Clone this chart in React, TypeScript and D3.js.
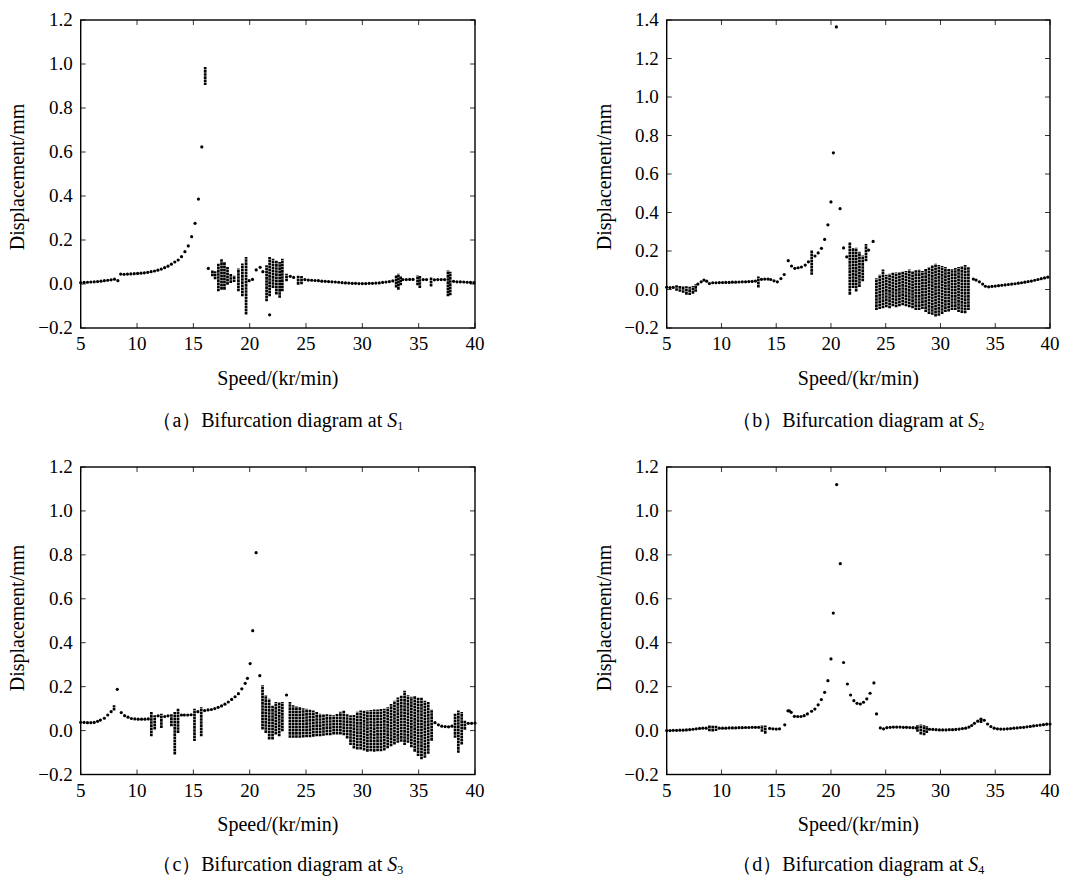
import React from 'react';
import * as d3 from 'd3';

type Pt = [number, number];
type Band = [number, number, number]; // [speed, min, max]

const xTicks = [5, 10, 15, 20, 25, 30, 35, 40];
const yTicks12 = [-0.2, 0, 0.2, 0.4, 0.6, 0.8, 1.0, 1.2];
const yTicks14 = [-0.2, 0, 0.2, 0.4, 0.6, 0.8, 1.0, 1.2, 1.4];

// ---------- (a) S1 ----------
const curveA: Pt[] = [
  [5.0, 0.006], [5.3, 0.007], [5.6, 0.008], [5.9, 0.009], [6.2, 0.01], [6.5, 0.011], [6.8, 0.013], [7.1, 0.015],
  [7.4, 0.017], [7.7, 0.019], [8.0, 0.022], [8.3, 0.015],
  [8.55, 0.045], [8.85, 0.044], [9.15, 0.045], [9.45, 0.046], [9.75, 0.047], [10.05, 0.048], [10.35, 0.049],
  [10.65, 0.051], [10.95, 0.053], [11.25, 0.056], [11.55, 0.059], [11.85, 0.063], [12.15, 0.068], [12.45, 0.074],
  [12.75, 0.081], [13.05, 0.09], [13.35, 0.1], [13.65, 0.109], [13.95, 0.124], [14.25, 0.147], [14.55, 0.173],
  [14.85, 0.215], [15.15, 0.276], [15.45, 0.386], [15.75, 0.623],
  [16.33, 0.071], [19.95, 0.015], [20.25, 0.021], [20.58, 0.064], [20.93, 0.076], [21.17, 0.056], [21.77, -0.14],
  [23.6, 0.035], [23.9, 0.03], [24.9, 0.02], [25.2, 0.018], [25.5, 0.017], [25.8, 0.016], [26.1, 0.015],
  [26.4, 0.013], [26.7, 0.012], [27.0, 0.011], [27.3, 0.01], [27.6, 0.009], [27.9, 0.008], [28.2, 0.006],
  [28.5, 0.005], [28.8, 0.004], [29.1, 0.003], [29.4, 0.003], [29.7, 0.002], [30.0, 0.002], [30.3, 0.002],
  [30.6, 0.003], [30.9, 0.003], [31.2, 0.004], [31.5, 0.005], [31.8, 0.007], [32.1, 0.009], [32.4, 0.011],
  [32.7, 0.014], [33.6, 0.02], [33.9, 0.02], [34.2, 0.021], [34.5, 0.021], [35.4, 0.02], [35.7, 0.02],
  [36.4, 0.019], [36.7, 0.02], [37.0, 0.02], [37.3, 0.02], [38.1, 0.012], [38.4, 0.01], [38.7, 0.01],
  [39.0, 0.009], [39.3, 0.008], [39.6, 0.007], [39.9, 0.006],
];
const bandsA: Band[] = [
  [16.05, 0.91, 0.98], [16.69, 0.041, 0.056], [16.93, 0.027, 0.052], [17.22, -0.027, 0.087], [17.5, -0.02, 0.109],
  [17.76, -0.02, 0.094], [18.03, 0.003, 0.071], [18.32, 0.011, 0.041], [18.62, 0.015, 0.033], [19.0, -0.027, 0.064],
  [19.35, -0.05, 0.087], [19.68, -0.133, 0.117], [21.5, -0.073, 0.079], [21.77, -0.05, 0.117], [22.07, -0.012, 0.109],
  [22.37, -0.042, 0.102], [22.66, -0.057, 0.094], [22.9, -0.027, 0.109], [23.27, 0.018, 0.041], [24.3, 0.003, 0.033],
  [24.6, 0.005, 0.03], [33.0, -0.01, 0.035], [33.2, -0.02, 0.041], [33.4, 0.0, 0.03], [34.9, 0.0, 0.033],
  [35.1, -0.012, 0.03], [36.1, -0.006, 0.026], [37.6, -0.05, 0.056], [37.8, -0.045, 0.05],
];

// ---------- (b) S2 ----------
const curveB: Pt[] = [
  [5.0, 0.012], [5.3, 0.01], [5.6, 0.011],
  [7.85, 0.028], [8.15, 0.04], [8.4, 0.049], [8.65, 0.043], [8.9, 0.031], [9.2, 0.035], [9.5, 0.035], [9.8, 0.036],
  [10.1, 0.036], [10.4, 0.037], [10.7, 0.037], [11.0, 0.038], [11.3, 0.038], [11.6, 0.039], [11.9, 0.04],
  [12.2, 0.04], [12.5, 0.041], [12.8, 0.042], [13.1, 0.044], [13.65, 0.053], [13.95, 0.054], [14.25, 0.054],
  [14.5, 0.052], [14.8, 0.045], [15.1, 0.04], [15.43, 0.057], [15.73, 0.078], [16.1, 0.15], [16.4, 0.122],
  [16.7, 0.11], [17.0, 0.113], [17.3, 0.117], [17.65, 0.127], [17.94, 0.144], [18.54, 0.174], [18.83, 0.19],
  [19.13, 0.214], [19.42, 0.26], [19.72, 0.336], [20.0, 0.455], [20.22, 0.71], [20.49, 1.364], [20.83, 0.42],
  [21.15, 0.216], [21.44, 0.17], [23.44, 0.205], [23.85, 0.25],
  [33.0, 0.054], [33.25, 0.049], [33.55, 0.04], [33.85, 0.028], [34.1, 0.017], [34.4, 0.014], [34.7, 0.016],
  [35.0, 0.018], [35.3, 0.02], [35.6, 0.022], [35.9, 0.024], [36.2, 0.026], [36.5, 0.028], [36.8, 0.03],
  [37.1, 0.033], [37.4, 0.035], [37.7, 0.038], [38.0, 0.041], [38.3, 0.044], [38.6, 0.048], [38.9, 0.052],
  [39.2, 0.056], [39.5, 0.06], [39.8, 0.064],
];
const bandsB: Band[] = [
  [5.9, 0.0, 0.015], [6.2, -0.005, 0.012], [6.5, -0.01, 0.012], [6.8, -0.02, 0.01], [7.1, -0.022, 0.008],
  [7.4, -0.015, 0.012], [7.65, -0.005, 0.02], [13.37, 0.017, 0.061], [18.24, 0.083, 0.197],
  [21.72, -0.02, 0.24], [22.02, 0.014, 0.21], [22.3, -0.003, 0.21], [22.6, 0.02, 0.19], [22.9, 0.05, 0.17],
  [23.2, 0.153, 0.23],
  [24.15, -0.1, 0.052], [24.45, -0.095, 0.07], [24.75, -0.09, 0.097], [25.05, -0.085, 0.07], [25.35, -0.09, 0.075],
  [25.65, -0.08, 0.08], [25.95, -0.085, 0.082], [26.25, -0.08, 0.083], [26.55, -0.075, 0.088], [26.85, -0.08, 0.09],
  [27.15, -0.085, 0.097], [27.45, -0.09, 0.09], [27.75, -0.1, 0.095], [28.05, -0.1, 0.097], [28.35, -0.095, 0.09],
  [28.65, -0.11, 0.1], [28.95, -0.12, 0.11], [29.25, -0.125, 0.12], [29.55, -0.134, 0.127], [29.85, -0.13, 0.12],
  [30.15, -0.12, 0.115], [30.45, -0.11, 0.11], [30.75, -0.108, 0.1], [31.05, -0.1, 0.1], [31.35, -0.1, 0.105],
  [31.65, -0.11, 0.11], [31.95, -0.115, 0.115], [32.25, -0.117, 0.12], [32.55, -0.1, 0.11],
];

// ---------- (c) S3 ----------
const curveC: Pt[] = [
  [5.0, 0.038], [5.3, 0.037], [5.6, 0.036], [5.9, 0.036], [6.2, 0.037], [6.5, 0.042], [6.75, 0.048], [7.1, 0.056],
  [7.4, 0.071], [7.7, 0.086], [8.25, 0.188], [8.6, 0.082], [8.9, 0.068], [9.2, 0.061], [9.5, 0.055], [9.8, 0.053],
  [10.1, 0.052], [10.4, 0.052], [10.7, 0.052], [11.0, 0.053], [11.87, 0.067], [12.46, 0.064], [12.75, 0.067],
  [13.94, 0.071], [14.2, 0.071], [14.5, 0.071], [14.8, 0.072], [15.4, 0.086], [16.0, 0.091], [16.3, 0.094],
  [16.6, 0.096], [16.9, 0.1], [17.2, 0.106], [17.5, 0.112], [17.8, 0.12], [18.1, 0.13], [18.4, 0.142],
  [18.7, 0.154], [19.0, 0.168], [19.3, 0.19], [19.6, 0.215], [19.8, 0.238], [20.04, 0.305], [20.27, 0.455],
  [20.57, 0.81], [20.9, 0.25], [23.27, 0.162], [36.45, 0.036], [36.75, 0.026], [37.05, 0.02], [37.35, 0.018],
  [37.65, 0.017], [37.95, 0.02], [39.4, 0.033], [39.7, 0.033], [40.0, 0.034],
];
const bandsC: Band[] = [
  [7.96, 0.097, 0.109], [11.27, -0.02, 0.079], [11.57, 0.011, 0.064], [12.16, 0.018, 0.071], [13.05, 0.026, 0.071],
  [13.35, -0.103, 0.079], [13.64, -0.005, 0.094], [15.1, -0.042, 0.094], [15.7, -0.02, 0.1],
  [21.14, 0.011, 0.2], [21.43, -0.005, 0.155], [21.73, -0.035, 0.139], [22.03, -0.035, 0.109], [22.32, -0.012, 0.124],
  [22.62, -0.02, 0.124], [22.9, 0.003, 0.124], [23.57, -0.027, 0.124],
  [23.86, -0.027, 0.109], [24.15, -0.027, 0.105], [24.45, -0.027, 0.1], [24.75, -0.026, 0.096], [25.05, -0.025, 0.094],
  [25.35, -0.024, 0.09], [25.65, -0.022, 0.085], [25.95, -0.02, 0.08], [26.25, -0.02, 0.071], [26.55, -0.018, 0.07],
  [26.85, -0.015, 0.068], [27.15, -0.015, 0.066], [27.45, -0.012, 0.064], [27.75, -0.012, 0.07], [28.05, -0.012, 0.08],
  [28.35, -0.015, 0.086], [28.65, -0.03, 0.07], [28.95, -0.06, 0.064], [29.25, -0.076, 0.066], [29.55, -0.08, 0.08],
  [29.85, -0.08, 0.086], [30.15, -0.085, 0.086], [30.45, -0.09, 0.086], [30.75, -0.088, 0.088], [31.05, -0.09, 0.09],
  [31.35, -0.088, 0.09], [31.65, -0.088, 0.092], [31.95, -0.085, 0.094], [32.25, -0.075, 0.1], [32.55, -0.065, 0.115],
  [32.85, -0.058, 0.13], [33.15, -0.05, 0.145], [33.45, -0.045, 0.155], [33.75, -0.06, 0.175], [34.05, -0.05, 0.155],
  [34.35, -0.07, 0.148], [34.65, -0.09, 0.15], [34.95, -0.11, 0.145], [35.25, -0.125, 0.145], [35.55, -0.118, 0.13],
  [35.85, -0.1, 0.124], [36.15, -0.04, 0.09],
  [38.23, -0.027, 0.071], [38.52, -0.095, 0.086], [38.82, -0.058, 0.079], [39.1, 0.01, 0.041],
];

// ---------- (d) S4 ----------
const curveD: Pt[] = [
  [5.0, 0.0], [5.3, 0.0], [5.6, 0.001], [5.9, 0.001], [6.2, 0.002], [6.5, 0.002], [6.8, 0.003], [7.1, 0.004],
  [7.4, 0.006], [7.7, 0.008], [8.0, 0.01], [8.3, 0.011], [8.6, 0.011], [9.8, 0.011], [10.1, 0.011], [10.4, 0.011],
  [10.7, 0.012], [11.0, 0.012], [11.3, 0.012], [11.6, 0.013], [11.9, 0.013], [12.2, 0.014], [12.5, 0.014],
  [12.8, 0.015], [13.1, 0.015], [13.4, 0.015], [14.4, 0.01], [14.7, 0.008], [15.0, 0.007], [15.3, 0.008],
  [15.78, 0.026], [16.07, 0.09], [16.2, 0.09], [16.37, 0.083], [16.66, 0.065], [16.96, 0.064], [17.26, 0.064],
  [17.55, 0.068], [17.85, 0.076], [18.23, 0.088], [18.53, 0.098], [18.83, 0.117], [19.12, 0.141], [19.42, 0.174],
  [19.72, 0.227], [20.0, 0.326], [20.21, 0.535], [20.52, 1.12], [20.85, 0.76], [21.15, 0.31], [21.5, 0.212],
  [21.79, 0.162], [22.09, 0.136], [22.38, 0.124], [22.68, 0.121], [22.97, 0.129], [23.27, 0.144], [23.57, 0.17],
  [23.92, 0.217], [24.16, 0.076], [24.51, 0.012], [24.8, 0.008], [25.1, 0.013], [25.4, 0.015], [25.7, 0.016],
  [26.0, 0.016], [26.3, 0.016], [26.6, 0.015], [26.9, 0.015], [27.2, 0.014], [27.5, 0.013], [27.8, 0.012],
  [29.0, 0.006], [29.3, 0.005], [29.6, 0.004], [29.9, 0.003], [30.2, 0.003], [30.5, 0.003], [30.8, 0.004],
  [31.1, 0.004], [31.4, 0.005], [31.7, 0.007], [32.0, 0.009], [32.3, 0.011], [32.6, 0.016], [32.85, 0.023],
  [33.1, 0.033], [33.4, 0.043], [33.7, 0.05], [34.0, 0.047], [34.3, 0.03], [34.6, 0.018], [34.9, 0.011],
  [35.2, 0.008], [35.5, 0.007], [35.8, 0.007], [36.1, 0.008], [36.4, 0.009], [36.7, 0.011], [37.0, 0.012],
  [37.3, 0.014], [37.6, 0.015], [37.9, 0.017], [38.2, 0.019], [38.5, 0.021], [38.8, 0.023], [39.1, 0.025],
  [39.4, 0.027], [39.7, 0.029], [40.0, 0.03],
];
const bandsD: Band[] = [
  [8.9, 0.003, 0.018], [9.2, 0.002, 0.017], [9.5, 0.004, 0.016], [13.7, 0.0, 0.018], [14.0, -0.008, 0.017],
  [27.9, 0.0, 0.02], [28.2, -0.012, 0.022], [28.5, -0.015, 0.02], [28.75, -0.005, 0.015], [33.7, 0.04, 0.052],
];

const captionLetters = ['a', 'b', 'c', 'd'];
const captionSubs = ['1', '2', '3', '4'];
const xLabel = 'Speed/(kr/min)';
const yLabel = 'Displacement/mm';

const FONT = 'Liberation Serif';
const fmt = d3.format('.1f');

interface PanelProps {
  left: number; right: number; top: number; bottom: number;
  yMax: number; yTicks: number[];
  curve: Pt[]; bands: Band[];
  letter: string; sub: string;
  yLabelX: number; yLabelY: number;
  xTickY: number; xLabelY: number; captionY: number;
}

function Panel(p: PanelProps) {
  const x = d3.scaleLinear().domain([5, 40]).range([p.left, p.right]);
  const y = d3.scaleLinear().domain([-0.2, p.yMax]).range([p.bottom, p.top]);
  const tl = 5;
  const cx = (p.left + p.right) / 2;
  return (
    <g>
      {p.bands.map((b, i) => (
        <line key={'b' + i} x1={x(b[0])} x2={x(b[0])} y1={y(b[1]) + 1.3} y2={y(b[2]) - 1.3}
          stroke="#000" strokeWidth={2.7} strokeDasharray="2.6 0.5" />
      ))}
      {p.curve.map((c, i) => (
        <circle key={'c' + i} cx={x(c[0])} cy={y(c[1])} r={1.6} fill="#000" />
      ))}
      <rect x={p.left} y={p.top} width={p.right - p.left} height={p.bottom - p.top}
        fill="none" stroke="#000" strokeWidth={1.4} />
      {xTicks.map((t) => (
        <g key={'xt' + t}>
          <line x1={x(t)} x2={x(t)} y1={p.bottom} y2={p.bottom - tl} stroke="#000" strokeWidth={0.8} />
          <line x1={x(t)} x2={x(t)} y1={p.top} y2={p.top + tl} stroke="#000" strokeWidth={0.8} />
          <text x={x(t)} y={p.xTickY} textAnchor="middle" fontSize={19} fontFamily={FONT}>{t}</text>
        </g>
      ))}
      {p.yTicks.map((t) => (
        <g key={'yt' + t}>
          <line x1={p.left} x2={p.left + tl} y1={y(t)} y2={y(t)} stroke="#000" strokeWidth={0.8} />
          <line x1={p.right} x2={p.right - tl} y1={y(t)} y2={y(t)} stroke="#000" strokeWidth={0.8} />
          <text x={p.left - 8} y={y(t)} dy="0.34em" textAnchor="end" fontSize={19} fontFamily={FONT}>{fmt(t)}</text>
        </g>
      ))}
      <text transform={`translate(${p.yLabelX},${p.yLabelY}) rotate(-90)`} textAnchor="middle"
        fontSize={20} fontFamily={FONT}>{yLabel}</text>
      <text x={cx} y={p.xLabelY} textAnchor="middle" fontSize={20} fontFamily={FONT}>{xLabel}</text>
      <text x={cx} y={p.captionY} textAnchor="middle" fontSize={20} fontFamily={FONT}>
        {'（' + p.letter + '）Bifurcation diagram at '}
        <tspan fontStyle="italic">S</tspan>
        <tspan fontSize={12} dy={3}>{p.sub}</tspan>
      </text>
    </g>
  );
}

export default function App() {
  const panels: PanelProps[] = [
    { left: 80.7, right: 475, top: 20, bottom: 328, yMax: 1.2, yTicks: yTicks12, curve: curveA, bands: bandsA,
      letter: captionLetters[0], sub: captionSubs[0], yLabelX: 24, yLabelY: 177, xTickY: 350, xLabelY: 385, captionY: 427 },
    { left: 666.7, right: 1050, top: 20, bottom: 328, yMax: 1.4, yTicks: yTicks14, curve: curveB, bands: bandsB,
      letter: captionLetters[1], sub: captionSubs[1], yLabelX: 611, yLabelY: 177, xTickY: 350, xLabelY: 385, captionY: 427 },
    { left: 80.7, right: 475, top: 467, bottom: 774.5, yMax: 1.2, yTicks: yTicks12, curve: curveC, bands: bandsC,
      letter: captionLetters[2], sub: captionSubs[2], yLabelX: 24, yLabelY: 618, xTickY: 797, xLabelY: 831, captionY: 871 },
    { left: 666.7, right: 1050, top: 467, bottom: 774.5, yMax: 1.2, yTicks: yTicks12, curve: curveD, bands: bandsD,
      letter: captionLetters[3], sub: captionSubs[3], yLabelX: 611, yLabelY: 618, xTickY: 797, xLabelY: 831, captionY: 871 },
  ];
  return (
    <svg width={1077} height={878} style={{ position: 'absolute', left: 0, top: 0, background: '#fff' }}>
      <rect width={1077} height={878} fill="#fff" />
      {panels.map((p, i) => <Panel key={i} {...p} />)}
    </svg>
  );
}
